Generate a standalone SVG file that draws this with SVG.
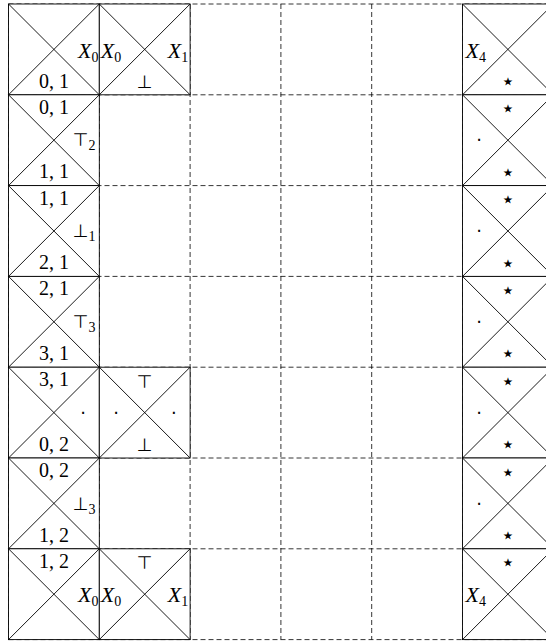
<svg xmlns="http://www.w3.org/2000/svg" width="546" height="641" viewBox="0 0 546 641">
<style>
.bg{fill:#fff}
.dash{stroke:#000;stroke-width:0.8;stroke-dasharray:5 3;fill:none}
.xr{fill:#fff;stroke:#000;stroke-width:0.9}
.xl{stroke:#000;stroke-width:0.9}
text{font-family:"Liberation Serif","DejaVu Serif",serif;font-size:20px;fill:#000}
.it{font-style:italic;font-size:22px}
.sym{font-family:"DejaVu Sans","Liberation Sans",sans-serif;font-size:18px}
.star{font-family:"DejaVu Sans",sans-serif;font-size:23px}
.dot{font-family:"DejaVu Sans",sans-serif;font-size:18px}
.sub{font-family:"Liberation Serif",serif;font-style:normal;font-size:14px}
.m{text-anchor:middle}
.e{text-anchor:end}
.s{text-anchor:start}
</style>
<defs>
<g id="xcell">
<rect class="xr" x="0" y="0" width="90.8" height="90.8" fill="#fff" stroke="#000" stroke-width="0.9"/>
<line class="xl" x1="0" y1="0" x2="90.8" y2="90.8" stroke="#000" stroke-width="0.9"/>
<line class="xl" x1="90.8" y1="0" x2="0" y2="90.8" stroke="#000" stroke-width="0.9"/>
</g>
</defs>
<rect class="bg" x="0" y="0" width="546" height="641"/>
<g id="connectors">
<g id="grid" class="dash">
<line x1="8.5" y1="4" x2="8.5" y2="639.6"/>
<line x1="99.3" y1="4" x2="99.3" y2="639.6"/>
<line x1="190.1" y1="4" x2="190.1" y2="639.6"/>
<line x1="280.9" y1="4" x2="280.9" y2="639.6"/>
<line x1="371.7" y1="4" x2="371.7" y2="639.6"/>
<line x1="462.5" y1="4" x2="462.5" y2="639.6"/>
<line x1="8.5" y1="4" x2="553.3" y2="4"/>
<line x1="8.5" y1="94.8" x2="553.3" y2="94.8"/>
<line x1="8.5" y1="185.6" x2="553.3" y2="185.6"/>
<line x1="8.5" y1="276.4" x2="553.3" y2="276.4"/>
<line x1="8.5" y1="367.2" x2="553.3" y2="367.2"/>
<line x1="8.5" y1="458" x2="553.3" y2="458"/>
<line x1="8.5" y1="548.8" x2="553.3" y2="548.8"/>
<line x1="8.5" y1="639.6" x2="553.3" y2="639.6"/>
</g>
</g>

<!-- Column 0 -->
<g id="c0r0" class="cell" transform="translate(8.5,4)">
<use href="#xcell"/>
<text class="it e" x="90" y="53.5">X<tspan class="sub" dy="4">0</tspan></text>
<text class="m" x="45.4" y="83.5">0, 1</text>
</g>
<g id="c0r1" class="cell" transform="translate(8.5,94.8)">
<use href="#xcell"/>
<text class="m" x="45.4" y="19">0, 1</text>
<text class="e" x="87" y="51.5"><tspan class="sym">⊤</tspan><tspan class="sub" dy="4">2</tspan></text>
<text class="m" x="45.4" y="83.5">1, 1</text>
</g>
<g id="c0r2" class="cell" transform="translate(8.5,185.6)">
<use href="#xcell"/>
<text class="m" x="45.4" y="19">1, 1</text>
<text class="e" x="87" y="51.5"><tspan class="sym">⊥</tspan><tspan class="sub" dy="4">1</tspan></text>
<text class="m" x="45.4" y="83.5">2, 1</text>
</g>
<g id="c0r3" class="cell" transform="translate(8.5,276.4)">
<use href="#xcell"/>
<text class="m" x="45.4" y="19">2, 1</text>
<text class="e" x="87" y="51.5"><tspan class="sym">⊤</tspan><tspan class="sub" dy="4">3</tspan></text>
<text class="m" x="45.4" y="83.5">3, 1</text>
</g>
<g id="c0r4" class="cell" transform="translate(8.5,367.2)">
<use href="#xcell"/>
<text class="m" x="45.4" y="19">3, 1</text>
<text class="dot m" x="74.5" y="51.5">⋅</text>
<text class="m" x="45.4" y="83.5">0, 2</text>
</g>
<g id="c0r5" class="cell" transform="translate(8.5,458)">
<use href="#xcell"/>
<text class="m" x="45.4" y="19">0, 2</text>
<text class="e" x="87" y="51.5"><tspan class="sym">⊥</tspan><tspan class="sub" dy="4">3</tspan></text>
<text class="m" x="45.4" y="83.5">1, 2</text>
</g>
<g id="c0r6" class="cell" transform="translate(8.5,548.8)">
<use href="#xcell"/>
<text class="m" x="45.4" y="19">1, 2</text>
<text class="it e" x="90" y="53.5">X<tspan class="sub" dy="4">0</tspan></text>
</g>

<!-- Column 1 -->
<g id="c1r0" class="cell" transform="translate(99.3,4)">
<use href="#xcell"/>
<text class="it s" x="1.5" y="53.5">X<tspan class="sub" dy="4">0</tspan></text>
<text class="it e" x="89" y="53.5">X<tspan class="sub" dy="4">1</tspan></text>
<text class="sym m" x="45.4" y="83.5">⊥</text>
</g>
<g id="c1r4" class="cell" transform="translate(99.3,367.2)">
<use href="#xcell"/>
<text class="sym m" x="45.4" y="20.5">⊤</text>
<text class="dot m" x="16.7" y="51.5">⋅</text>
<text class="dot m" x="74.5" y="51.5">⋅</text>
<text class="sym m" x="45.4" y="83.5">⊥</text>
</g>
<g id="c1r6" class="cell" transform="translate(99.3,548.8)">
<use href="#xcell"/>
<text class="sym m" x="45.4" y="20.5">⊤</text>
<text class="it s" x="1.5" y="53.5">X<tspan class="sub" dy="4">0</tspan></text>
<text class="it e" x="89" y="53.5">X<tspan class="sub" dy="4">1</tspan></text>
</g>

<!-- Column 5 -->
<g id="c5r0" class="cell" transform="translate(462.5,4)">
<use href="#xcell"/>
<text class="it s" x="3" y="53.5">X<tspan class="sub" dy="4">4</tspan></text>
<text class="star m" x="45.4" y="85">⋆</text>
</g>
<g id="c5r1" class="cell" transform="translate(462.5,94.8)">
<use href="#xcell"/>
<text class="star m" x="45.4" y="21.5">⋆</text>
<text class="dot m" x="16.5" y="51.5">⋅</text>
<text class="star m" x="45.4" y="85">⋆</text>
</g>
<g id="c5r2" class="cell" transform="translate(462.5,185.6)">
<use href="#xcell"/>
<text class="star m" x="45.4" y="21.5">⋆</text>
<text class="dot m" x="16.5" y="51.5">⋅</text>
<text class="star m" x="45.4" y="85">⋆</text>
</g>
<g id="c5r3" class="cell" transform="translate(462.5,276.4)">
<use href="#xcell"/>
<text class="star m" x="45.4" y="21.5">⋆</text>
<text class="dot m" x="16.5" y="51.5">⋅</text>
<text class="star m" x="45.4" y="85">⋆</text>
</g>
<g id="c5r4" class="cell" transform="translate(462.5,367.2)">
<use href="#xcell"/>
<text class="star m" x="45.4" y="21.5">⋆</text>
<text class="dot m" x="16.5" y="51.5">⋅</text>
<text class="star m" x="45.4" y="85">⋆</text>
</g>
<g id="c5r5" class="cell" transform="translate(462.5,458)">
<use href="#xcell"/>
<text class="star m" x="45.4" y="21.5">⋆</text>
<text class="dot m" x="16.5" y="51.5">⋅</text>
<text class="star m" x="45.4" y="85">⋆</text>
</g>
<g id="c5r6" class="cell" transform="translate(462.5,548.8)">
<use href="#xcell"/>
<text class="star m" x="45.4" y="21.5">⋆</text>
<text class="it s" x="3" y="53.5">X<tspan class="sub" dy="4">4</tspan></text>
</g>
</svg>
